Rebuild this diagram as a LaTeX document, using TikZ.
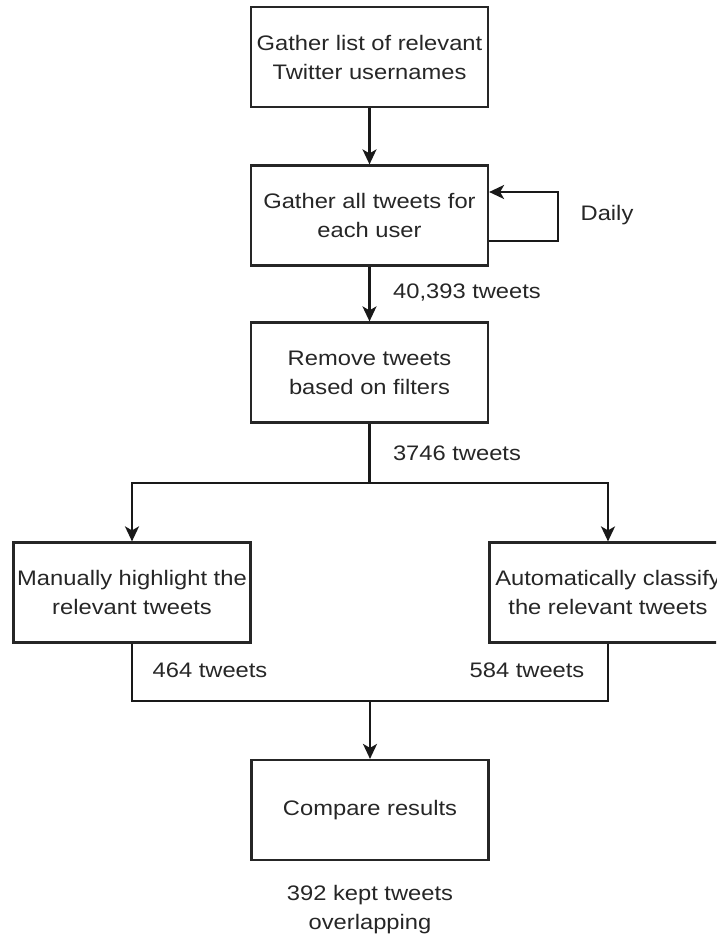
\documentclass[tikz,border=0pt]{standalone}
\usepackage{fontspec}
\setmainfont{Liberation Sans}[FakeStretch=1.13]
\usetikzlibrary{arrows.meta}
\begin{document}
\begin{tikzpicture}[x=1pt,y=-1pt,
  txt/.style={font=\fontsize{21}{29}\selectfont, text=black!85, align=center},
  box/.style={txt, draw=black!85, line width=2.2pt, minimum width=237pt, minimum height=100pt, inner sep=0pt},
  conn/.style={draw=black!90, line width=2.2pt},
  arr/.style={conn, -{Stealth[length=15pt,width=14pt,inset=4pt]}}]
\useasboundingbox (0,0) rectangle (716,936);
\clip (0,0) rectangle (716,936);
\node[box] (b1) at (369.5,57) {Gather list of relevant\\Twitter usernames};
\node[box] (b2) at (369.5,215.5) {Gather all tweets for\\each user};
\node[box] (b3) at (369.5,372.5) {Remove tweets\\based on filters};
\node[box] (bl) at (132,592.5) {Manually highlight the\\relevant tweets};
\node[box] (br) at (608,592.5) {Automatically classify\\the relevant tweets};
\node[box] (cmp) at (370,810) {Compare results};
\coordinate (split) at (369.5,483);
\coordinate (merge) at (370,701);
\coordinate (loopout) at (558,241);
\node[txt] (daily) at (607,215) {Daily};
\node[txt] (l1) at (467,293) {40,393 tweets};
\node[txt] (l2) at (457,453) {3746 tweets};
\node[txt] (l3) at (210,670) {464 tweets};
\node[txt] (l4) at (527,670) {584 tweets};
\node[txt] (res) at (370,910) {392 kept tweets\\overlapping};
\draw[arr] (b1) -- (b2);
\draw[arr] (b2) -- (b3);
\draw[arr] (b2.east |- loopout) -- (loopout) |- ([yshift=23.5pt]b2.east);
\draw[conn] (b3) -- (split);
\draw[arr] (split) -| (bl.north);
\draw[arr] (split) -| (br.north);
\draw[conn] (bl.south) |- (merge);
\draw[conn] (br.south) |- (merge);
\draw[arr] (merge) -- (cmp.north);
\end{tikzpicture}
\end{document}
